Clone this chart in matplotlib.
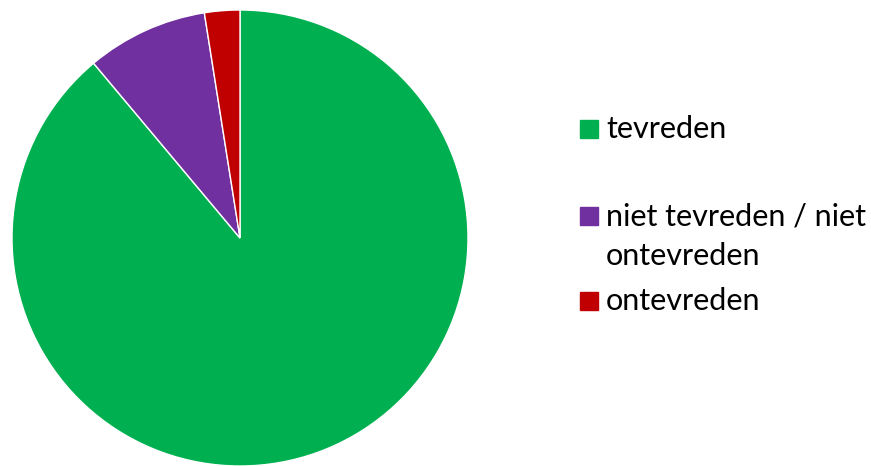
import matplotlib.pyplot as plt
from matplotlib.patches import Rectangle

labels = ["tevreden", "niet tevreden / niet\nontevreden", "ontevreden"]
values = [88.9, 8.6, 2.5]
colors = ["#00B050", "#7030A0", "#C00000"]

W, H = 871, 466
fig = plt.figure(figsize=(W / 100, H / 100), dpi=100)

# pie area: centre (240, 238), radius 228 px
ax = fig.add_axes([12 / W, 0, 456 / W, 456 / H])
ax.pie(values, colors=colors, startangle=90, counterclock=False,
       radius=1, wedgeprops=dict(edgecolor="white", linewidth=1))
ax.set_xlim(-1, 1)
ax.set_ylim(-1, 1)
ax.set_aspect("equal")
ax.axis("off")

# legend drawn by hand (Excel-style uneven spacing)
entry_y = [129, 216, 301]  # px from top, first text line centre
line_h = 40
for lab, col, y in zip(labels, colors, entry_y):
    fig.patches.append(Rectangle((580 / W, 1 - (y + 9) / H), 18 / W, 18 / H,
                                 transform=fig.transFigure, color=col))
    for i, part in enumerate(lab.split("\n")):
        fig.text(606 / W, 1 - (y + i * line_h) / H, part, fontsize=22,
                 family="Lato", va="center", ha="left")

fig.savefig("out.png", dpi=100)
